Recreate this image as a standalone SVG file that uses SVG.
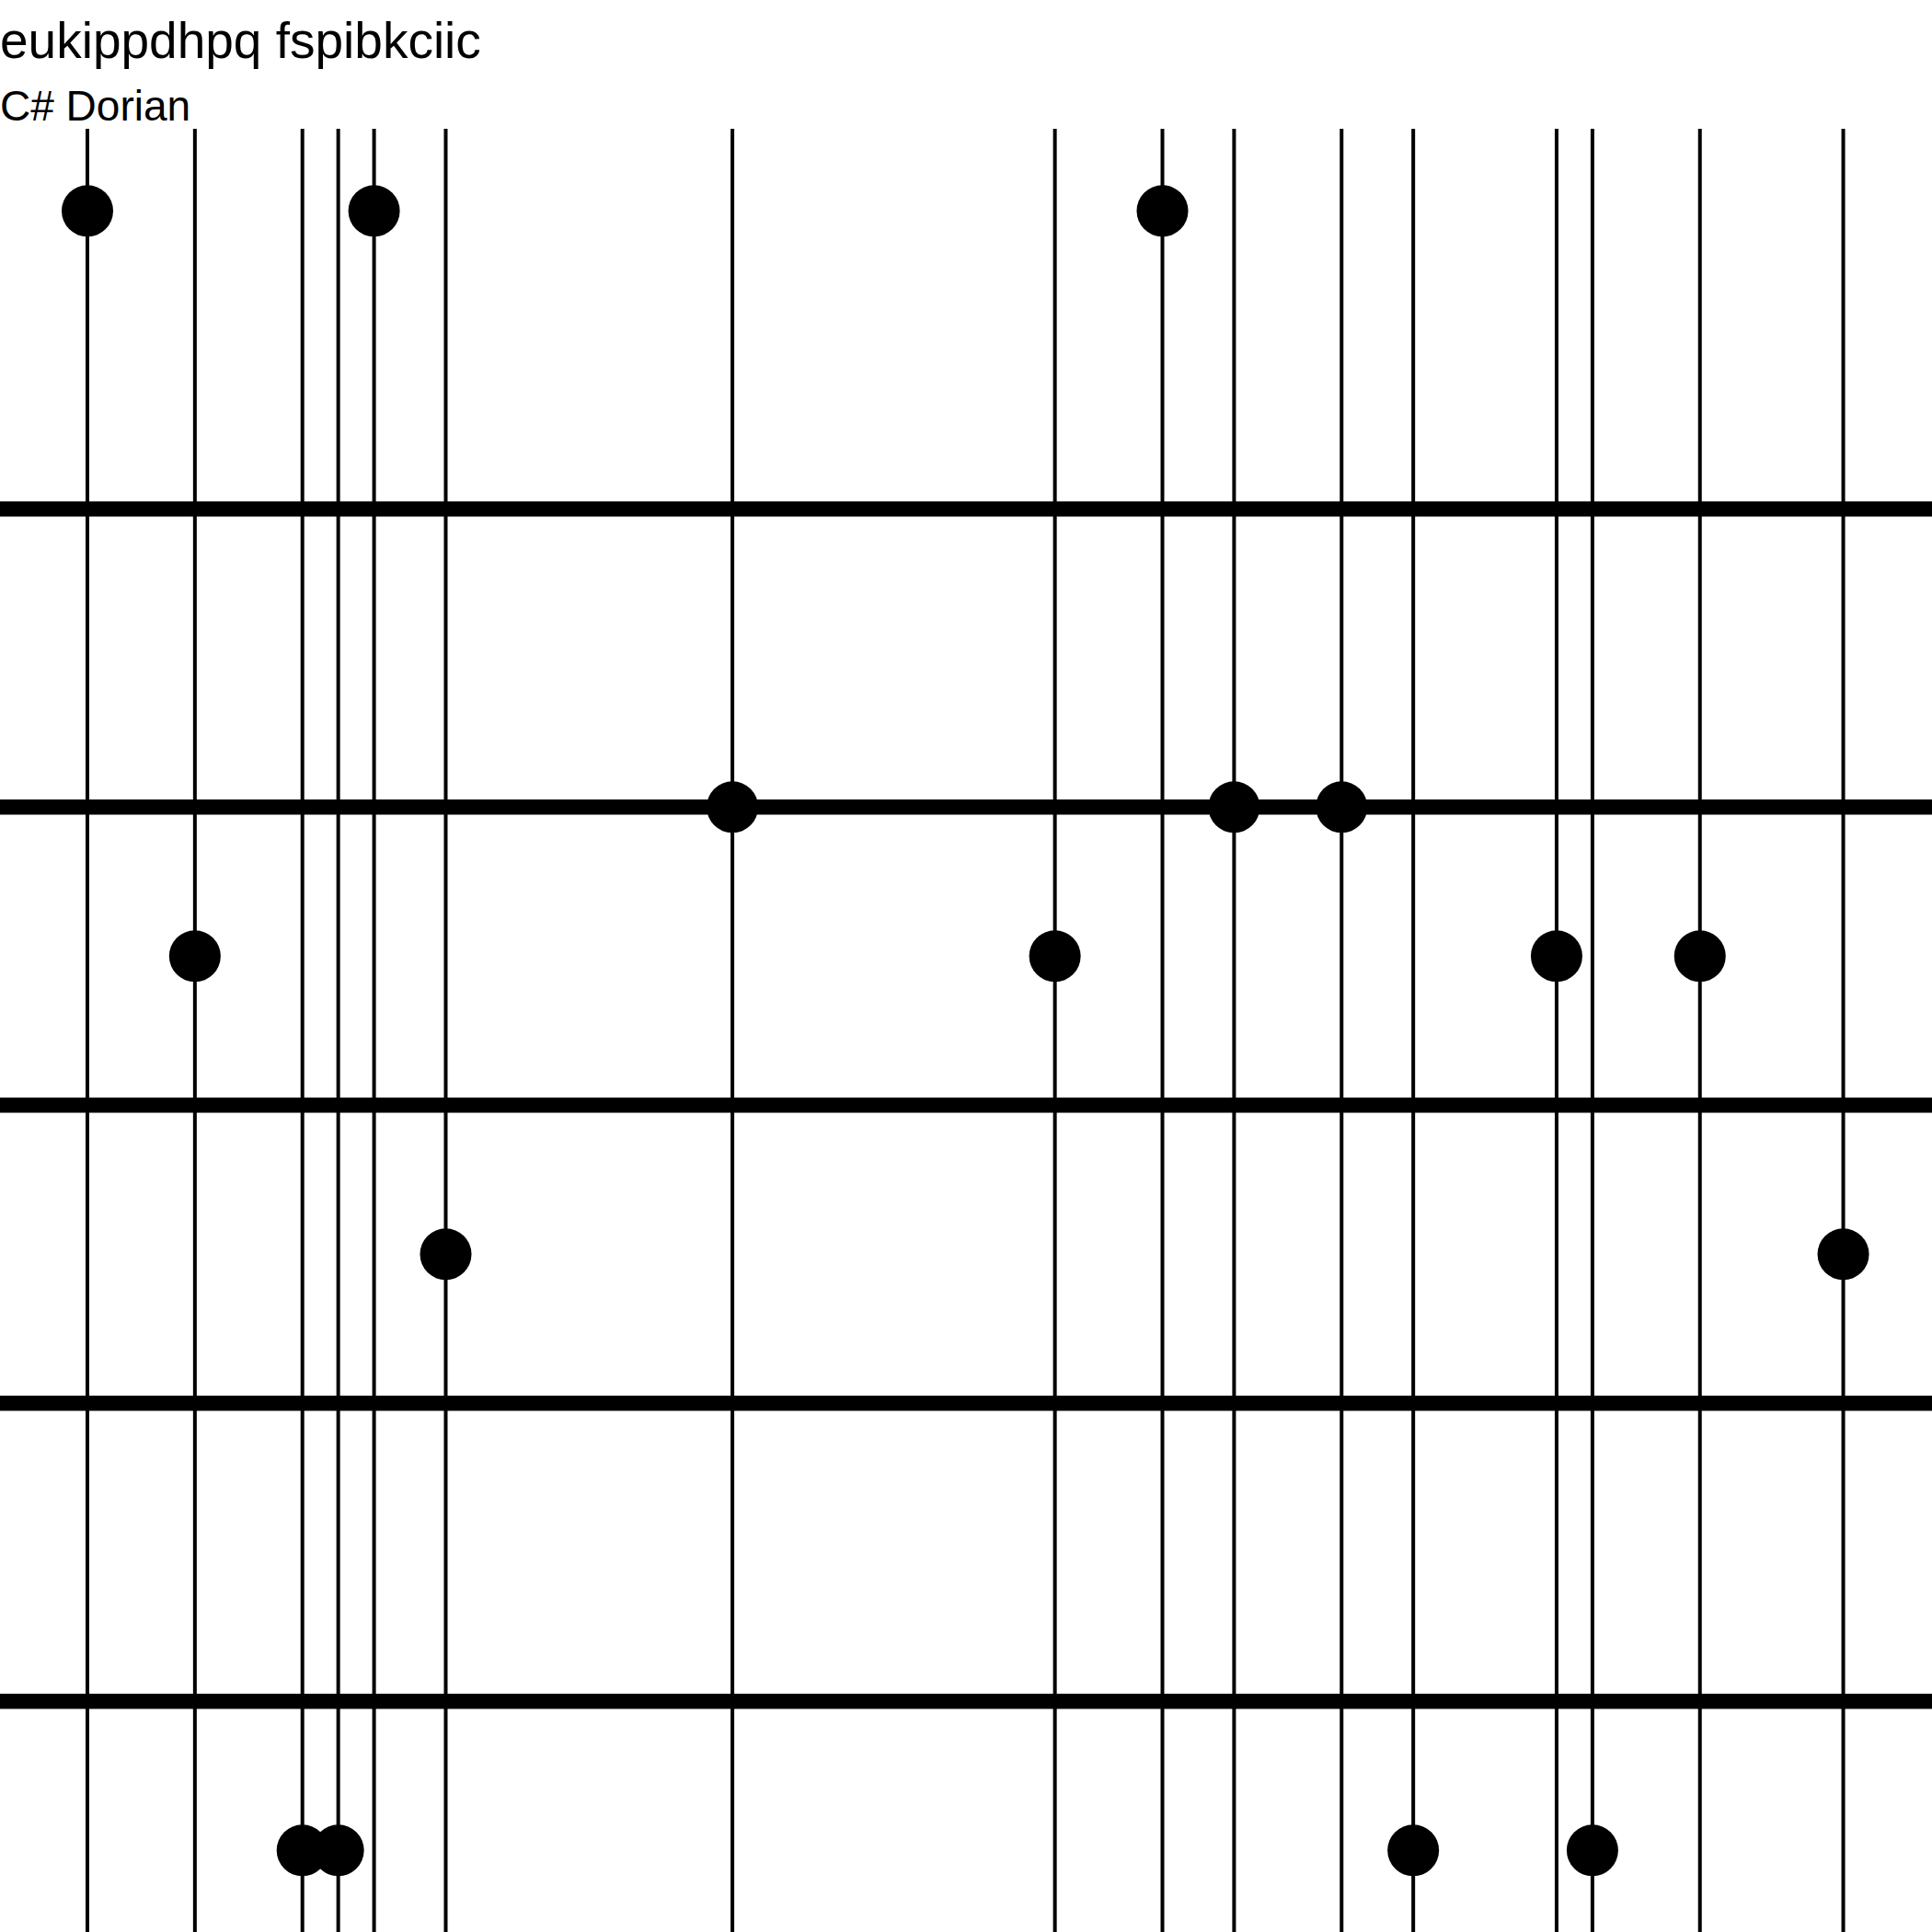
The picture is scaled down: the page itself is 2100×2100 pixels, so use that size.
<svg xmlns="http://www.w3.org/2000/svg" width="2100" height="2100" viewBox="0 0 2100 2100">
<style>
.bg{fill:#fff}
.title{font-family:"Liberation Sans",Arial,sans-serif;font-size:55px;fill:#000}
.sub{font-family:"Liberation Sans",Arial,sans-serif;font-size:46px;fill:#000}
.staff{stroke:#000;stroke-width:16.5}
.col{stroke:#000;stroke-width:4}
.dot{fill:#000}
</style>
<rect class="bg" x="0" y="0" width="2100" height="2100"/>
<text class="title" x="0" y="63">eukippdhpq fspibkciic</text>
<text class="sub" x="0" y="131">C# Dorian</text>
<g id="staff">
<line class="staff" x1="0" y1="553.3" x2="2100" y2="553.3"/>
<line class="staff" x1="0" y1="877.3" x2="2100" y2="877.3"/>
<line class="staff" x1="0" y1="1201.3" x2="2100" y2="1201.3"/>
<line class="staff" x1="0" y1="1525.3" x2="2100" y2="1525.3"/>
<line class="staff" x1="0" y1="1849.3" x2="2100" y2="1849.3"/>
</g>
<g id="connectors">
<line class="col" x1="95" y1="140" x2="95" y2="2100"/>
<line class="col" x1="211.85" y1="140" x2="211.85" y2="2100"/>
<line class="col" x1="328.7" y1="140" x2="328.7" y2="2100"/>
<line class="col" x1="367.65" y1="140" x2="367.65" y2="2100"/>
<line class="col" x1="406.6" y1="140" x2="406.6" y2="2100"/>
<line class="col" x1="484.5" y1="140" x2="484.5" y2="2100"/>
<line class="col" x1="796.1" y1="140" x2="796.1" y2="2100"/>
<line class="col" x1="1146.65" y1="140" x2="1146.65" y2="2100"/>
<line class="col" x1="1263.5" y1="140" x2="1263.5" y2="2100"/>
<line class="col" x1="1341.4" y1="140" x2="1341.4" y2="2100"/>
<line class="col" x1="1458.25" y1="140" x2="1458.25" y2="2100"/>
<line class="col" x1="1536.15" y1="140" x2="1536.15" y2="2100"/>
<line class="col" x1="1691.95" y1="140" x2="1691.95" y2="2100"/>
<line class="col" x1="1730.9" y1="140" x2="1730.9" y2="2100"/>
<line class="col" x1="1847.75" y1="140" x2="1847.75" y2="2100"/>
<line class="col" x1="2003.55" y1="140" x2="2003.55" y2="2100"/>
</g>
<g id="n0"><circle class="dot" cx="95" cy="229.3" r="28"/></g>
<g id="n1"><circle class="dot" cx="211.85" cy="1039.3" r="28"/></g>
<g id="n2"><circle class="dot" cx="328.7" cy="2011.3" r="28"/></g>
<g id="n3"><circle class="dot" cx="367.65" cy="2011.3" r="28"/></g>
<g id="n4"><circle class="dot" cx="406.6" cy="229.3" r="28"/></g>
<g id="n5"><circle class="dot" cx="484.5" cy="1363.3" r="28"/></g>
<g id="n6"><circle class="dot" cx="796.1" cy="877.3" r="28"/></g>
<g id="n7"><circle class="dot" cx="1146.65" cy="1039.3" r="28"/></g>
<g id="n8"><circle class="dot" cx="1263.5" cy="229.3" r="28"/></g>
<g id="n9"><circle class="dot" cx="1341.4" cy="877.3" r="28"/></g>
<g id="n10"><circle class="dot" cx="1458.25" cy="877.3" r="28"/></g>
<g id="n11"><circle class="dot" cx="1536.15" cy="2011.3" r="28"/></g>
<g id="n12"><circle class="dot" cx="1691.95" cy="1039.3" r="28"/></g>
<g id="n13"><circle class="dot" cx="1730.9" cy="2011.3" r="28"/></g>
<g id="n14"><circle class="dot" cx="1847.75" cy="1039.3" r="28"/></g>
<g id="n15"><circle class="dot" cx="2003.55" cy="1363.3" r="28"/></g>
</svg>
